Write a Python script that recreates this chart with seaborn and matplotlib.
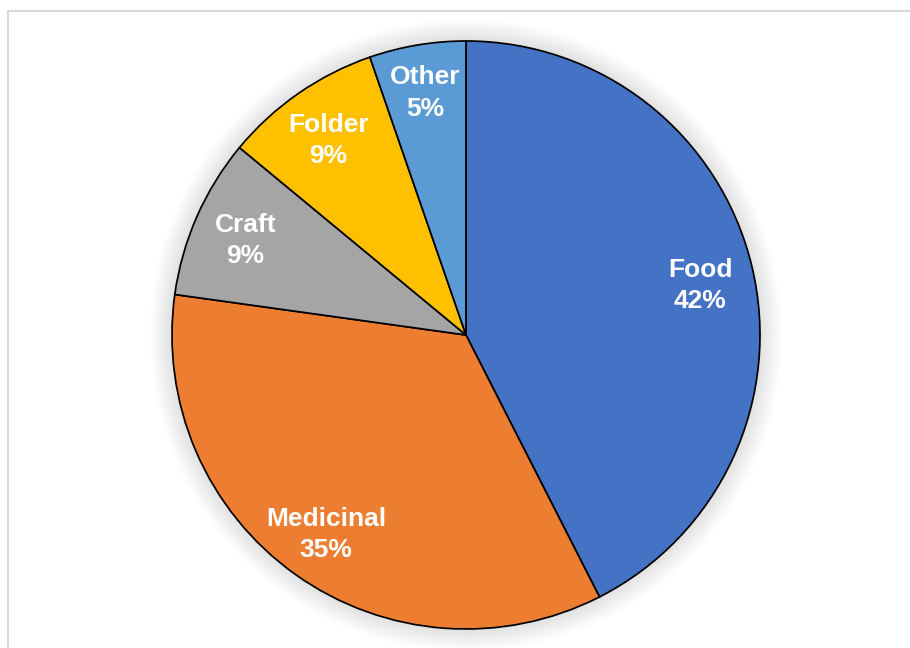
import seaborn as sns
import matplotlib.pyplot as plt
from matplotlib.patches import Circle
from matplotlib.lines import Line2D

# Data (shares; labels show rounded percentages)
categories = ["Food", "Medicinal", "Craft", "Folder", "Other"]
shares = [42.5, 34.7, 8.8, 8.7, 5.3]
colors = ["#4472C4", "#ED7D31", "#A5A5A5", "#FFC000", "#5B9BD5"]

sns.set_theme(style="white")
plt.rcParams['font.family'] = ['Liberation Sans', 'DejaVu Sans']

fig = plt.figure(figsize=(9.1, 6.48), dpi=100)
fig.patch.set_facecolor("white")

# Chart-area border (light grey, runs off the right and bottom edges)
W, H = 910, 648
fig.add_artist(Line2D([7.5 / W, 7.5 / W], [1 - 10.5 / H, 0], color="#D9D9D9", lw=1.5))
fig.add_artist(Line2D([7.5 / W, 1], [1 - 10.5 / H, 1 - 10.5 / H], color="#D9D9D9", lw=1.5))

# Square axes holding the pie: centre (466, 335) px, radius 294 px
cx, cy, r = 466, 335, 294
ax = fig.add_axes([(cx - r) / W, (H - cy - r) / H, 2 * r / W, 2 * r / H])
ax.set_xlim(-1, 1)
ax.set_ylim(-1, 1)
ax.set_aspect("equal")
ax.axis("off")

# Soft outer shadow
for i in range(16):
    ax.add_patch(Circle((0, 0), 1.0 + 0.005 * i, color="black", alpha=0.009,
                        lw=0, zorder=0, clip_on=False))

labels = [f"{c}\n{round(s):.0f}%" for c, s in zip(categories, shares)]
wedges, texts = ax.pie(
    shares,
    labels=labels,
    colors=colors,
    startangle=90,
    counterclock=False,
    radius=1.0,
    labeldistance=0.82,
    wedgeprops=dict(edgecolor="black", linewidth=1.25),
    textprops=dict(color="white", fontsize=19, fontweight="bold",
                   ha="center", va="center", linespacing=1.38),
)
for w in wedges:
    w.set_zorder(2)
for t in texts:
    t.set_horizontalalignment("center")
    t.set_zorder(3)

# Small slice label sits a bit further out
x, y = texts[-1].get_position()
texts[-1].set_position((x * 0.845 / 0.82, y * 0.845 / 0.82))

# Nudge labels slightly down to match the reference placement
for t, dy in zip(texts, [0.024, 0.010, 0.010, 0.012, 0.010]):
    x, y = t.get_position()
    t.set_position((x, y - dy))

ax.set_xlim(-1, 1)
ax.set_ylim(-1, 1)

plt.savefig("out.png", dpi=100)
